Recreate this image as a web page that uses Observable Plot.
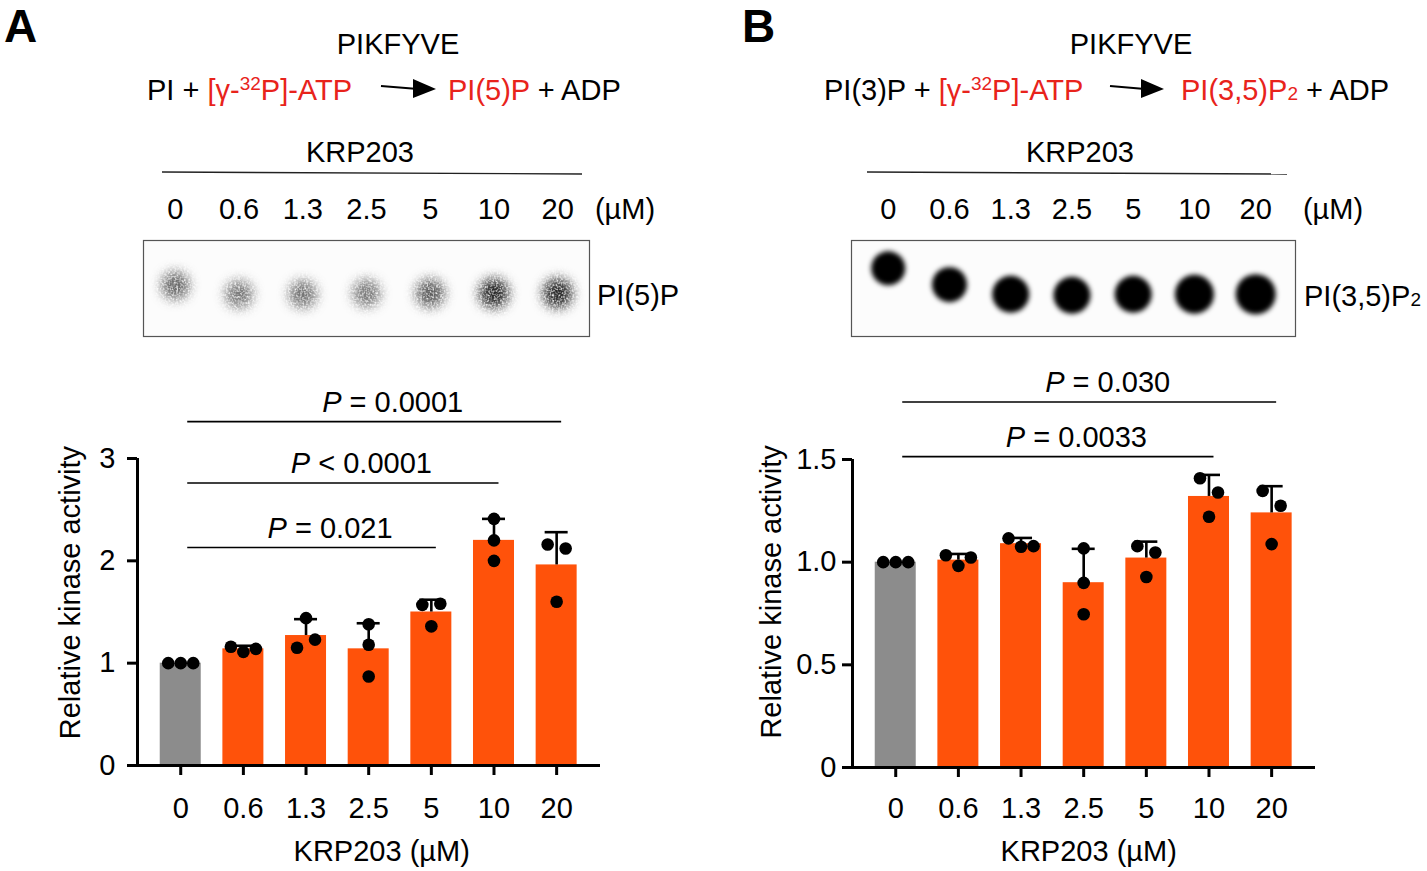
<!DOCTYPE html>
<html><head><meta charset="utf-8">
<script src="https://cdn.jsdelivr.net/npm/d3@7"></script>
<script src="https://cdn.jsdelivr.net/npm/@observablehq/plot@0.6"></script>
<style>
body{margin:0;background:#fff;}
#page{position:relative;width:1427px;height:871px;overflow:hidden;background:#fff;font-family:"Liberation Sans",Arial,Helvetica,sans-serif;}
#page svg{position:absolute;max-width:none;background:transparent;overflow:visible;}
</style></head><body><div id="page"></div>
<script>
// ---------------- data ----------------
const concLabels = ["0", "0.6", "1.3", "2.5", "5", "10", "20"];

// Panel A : PI -> PI(5)P
const meanA = [1.00, 1.14, 1.27, 1.14, 1.50, 2.20, 1.96];
const sdA   = [0.00, 0.03, 0.16, 0.25, 0.12, 0.21, 0.32];
const repsA = [[1.00, 1.00, 1.00], [1.16, 1.11, 1.14], [1.44, 1.15, 1.23], [1.38, 1.18, 0.87],
               [1.57, 1.58, 1.36], [2.41, 2.20, 2.00], [2.16, 2.12, 1.60]];
const pToA    = [6, 5, 4];
const pLevelA = [3.36, 2.76, 2.13];
const pTextA  = ["= 0.0001", "< 0.0001", "= 0.021"];
const blotSignalA = [0.6, 0.52, 0.55, 0.52, 0.64, 0.85, 0.85];
const blotSizeA   = [14, 14, 14, 14, 14.5, 15, 15];
const blotMigA    = [0.47, 0.56, 0.56, 0.55, 0.55, 0.55, 0.55];

// Panel B : PI(3)P -> PI(3,5)P2
const meanB = [1.00, 1.01, 1.09, 0.90, 1.02, 1.32, 1.24];
const sdB   = [0.00, 0.03, 0.028, 0.165, 0.08, 0.105, 0.13];
const repsB = [[1.00, 1.00, 1.00], [1.034, 0.982, 1.023], [1.116, 1.075, 1.078], [1.067, 0.899, 0.746],
               [1.078, 1.047, 0.928], [1.409, 1.339, 1.221], [1.347, 1.275, 1.088]];
const pToB    = [6, 5];
const pLevelB = [1.78, 1.514];
const pTextB  = ["= 0.030", "= 0.0033"];
const blotSignalB = [1, 1, 1, 1, 1, 1, 1];
const blotSizeB   = [17, 17.5, 18.5, 18.5, 18.5, 19.5, 20];
const blotMigB    = [0.29, 0.46, 0.56, 0.57, 0.56, 0.56, 0.56];

// ---------------- styles ----------------
const FONT = '"Liberation Sans", Arial, Helvetica, sans-serif';
const FS = 29;
const RED = "#E8231B";
const ORANGE = "#FF520A";
const GRAY = "#8C8C8C";

const page = d3.select("#page");

// ---------------- header annotations (plain SVG) ----------------
const hdr = page.append("svg").attr("width", 1427).attr("height", 871)
  .style("left", "0px").style("top", "0px")
  .attr("font-family", FONT);

function addText(x, y, parts, anchor = "start", size = FS, weight = "normal") {
  const t = hdr.append("text").attr("x", x).attr("y", y).attr("text-anchor", anchor)
    .attr("font-size", size).attr("font-weight", weight).attr("fill", "#000")
    .style("white-space", "pre");
  parts.forEach(p => {
    const s = typeof p === "string" ? {t: p} : p;
    const ts = t.append("tspan").text(s.t);
    if (s.fill) ts.attr("fill", s.fill);
    if (s.size) ts.attr("font-size", s.size);
    if (s.dy) ts.attr("dy", s.dy);
  });
}
function arrow(x0, x1, tip) {
  hdr.append("line").attr("x1", x0).attr("y1", 86).attr("x2", x1).attr("y2", 89)
    .attr("stroke", "#000").attr("stroke-width", 2.2);
  hdr.append("path").attr("d", `M${tip - 23},79 L${tip},89 L${tip - 23},98 Z`).attr("fill", "#000");
}

addText(4, 42, ["A"], "start", 46, "bold");
addText(742, 42, ["B"], "start", 46, "bold");

addText(398, 54, ["PIKFYVE"], "middle");
addText(147, 100, ["PI + ", {t: "[γ-", fill: RED}, {t: "32", fill: RED, size: 19, dy: -10}, {t: "P]-ATP", fill: RED, dy: 10}]);
arrow(381, 418, 436);
addText(448, 100, [{t: "PI(5)P", fill: RED}, " + ADP"]);

addText(1131, 54, ["PIKFYVE"], "middle");
addText(824, 100, ["PI(3)P + ", {t: "[γ-", fill: RED}, {t: "32", fill: RED, size: 19, dy: -10}, {t: "P]-ATP", fill: RED, dy: 10}]);
arrow(1110, 1145, 1164);
addText(1181, 100, [{t: "PI(3,5)P", fill: RED}, {t: "2", fill: RED, size: 19}, " + ADP"]);

addText(360, 162, ["KRP203"], "middle");
addText(1080, 162, ["KRP203"], "middle");
hdr.append("line").attr("x1", 162).attr("y1", 172).attr("x2", 582).attr("y2", 174).attr("stroke", "#222").attr("stroke-width", 1.4);
hdr.append("line").attr("x1", 867).attr("y1", 172).attr("x2", 1287).attr("y2", 174).attr("stroke", "#222").attr("stroke-width", 1.4);
addText(625, 219, ["(µM)"], "middle");
addText(1333, 219, ["(µM)"], "middle");
addText(597, 305, ["PI(5)P"]);
addText(1304, 306, ["PI(3,5)P", {t: "2", size: 19}]);

// ---------------- blots (Plot) ----------------
function blot(o) {
  const W = o.width, H = 170;
  const spots = o.signal.map((s, i) => ({i, s, r: o.size[i], m: o.mig[i]}));
  const svg = Plot.plot({
    width: W, height: H,
    marginLeft: o.ml, marginRight: o.mr, marginTop: 60, marginBottom: 14,
    x: {domain: o.xDom, axis: null},
    y: {domain: [0, 1], reverse: true, axis: null},
    r: {type: "identity"},
    opacity: {type: "identity"},
    style: {fontFamily: FONT, fontSize: FS + "px", background: "transparent", overflow: "visible"},
    marks: [
      Plot.frame({fill: "#fcfcfc"}),
      Plot.dot(spots, {x: "i", y: "m", r: "r", fill: "#000", fillOpacity: "s"}),
      Plot.frame({stroke: "#555", strokeWidth: 1.2}),
      Plot.text(concLabels, {x: (d, i) => i, frameAnchor: "top", lineAnchor: "middle", dy: -31, fontSize: FS, text: d => d})
    ]
  });
  const s = d3.select(svg);
  const defs = s.insert("defs", ":first-child");
  const f = defs.append("filter").attr("id", o.id).attr("filterUnits", "userSpaceOnUse")
    .attr("x", -20).attr("y", -20).attr("width", W + 40).attr("height", H + 40)
    .attr("color-interpolation-filters", "sRGB");
  f.append("feGaussianBlur").attr("in", "SourceGraphic").attr("stdDeviation", o.sigma).attr("result", "blur");
  if (o.speckle) {
    f.append("feTurbulence").attr("type", "fractalNoise").attr("baseFrequency", 0.5)
      .attr("numOctaves", 2).attr("seed", 3).attr("result", "noise");
    f.append("feColorMatrix").attr("in", "noise").attr("type", "matrix")
      .attr("values", "0 0 0 0 0  0 0 0 0 0  0 0 0 0 0  2.0 0 0 0 -0.2").attr("result", "mask");
    f.append("feComposite").attr("in", "blur").attr("in2", "mask").attr("operator", "in");
  }
  const circ = s.select("circle").node();
  if (circ) d3.select(circ.parentNode).attr("filter", `url(#${o.id})`);
  svg.style.left = o.left + "px";
  svg.style.top = "180px";
  page.node().appendChild(svg);
}
blot({id: "spotA", left: 100, width: 600, ml: 43, mr: 111, xDom: [-0.5, 6.5],
      signal: blotSignalA, size: blotSizeA, mig: blotMigA, sigma: 6, speckle: true});
blot({id: "spotB", left: 800, width: 627, ml: 51, mr: 132, xDom: [-0.6, 6.65],
      signal: blotSignalB, size: blotSizeB, mig: blotMigB, sigma: 2.5, speckle: false});

// ---------------- bar charts (Plot) ----------------
function jitterPx(vals, pxY) {
  const n = vals.length, comp = vals.map((_, i) => i);
  const find = i => comp[i] === i ? i : (comp[i] = find(comp[i]));
  for (let a = 0; a < n; a++) for (let b = a + 1; b < n; b++)
    if (Math.abs(vals[a] - vals[b]) * pxY < 16) comp[find(a)] = find(b);
  const groups = new Map();
  vals.forEach((_, i) => { const r = find(i); if (!groups.has(r)) groups.set(r, []); groups.get(r).push(i); });
  const off = new Array(n).fill(0);
  for (const g of groups.values()) {
    const pattern = g.length === 1 ? [0] : g.length === 2 ? [-9, 9] : [-12.5, 0, 12.5];
    g.forEach((idx, k) => off[idx] = pattern[k]);
  }
  return off;
}

function barPanel(o) {
  const W = 712, H = 511;
  const xDom = [-0.69, 6.7];
  const fw = W - 137 - 112, fh = H - o.mt - o.mb;
  const pxX = fw / (xDom[1] - xDom[0]);
  const pxY = fh / o.yMax;
  const bars = o.means.map((m, i) => ({i, mean: m, top: m + o.sds[i], fill: i === 0 ? GRAY : ORANGE}));
  const errs = bars.filter(d => d.top > d.mean);
  const pts = [];
  o.reps.forEach((vals, i) => {
    const off = jitterPx(vals, pxY);
    vals.forEach((v, k) => pts.push({x: i + off[k] / pxX, y: v}));
  });
  const br = o.pTo.map((t, k) => ({x1: 7 / pxX, x2: t + 5 / pxX, y: o.pLevel[k], label: "P " + o.pText[k]}));
  const barHalf = 20.5 / pxX, capHalf = 11.5 / pxX;
  const svg = Plot.plot({
    width: W, height: H,
    marginLeft: 137, marginRight: 112, marginTop: o.mt, marginBottom: o.mb,
    x: {domain: xDom},
    y: {domain: [0, o.yMax]},
    style: {fontFamily: FONT, fontSize: FS + "px", background: "transparent", overflow: "visible", color: "#000"},
    marks: [
      Plot.rect(bars, {x1: d => d.i - barHalf, x2: d => d.i + barHalf, y1: 0, y2: "mean", fill: "fill"}),
      Plot.ruleX(errs, {x: "i", y1: "mean", y2: "top", strokeWidth: 2.6, stroke: "#000"}),
      Plot.ruleY(errs, {y: "top", x1: d => d.i - capHalf, x2: d => d.i + capHalf, strokeWidth: 2.6, stroke: "#000"}),
      Plot.dot(pts, {x: "x", y: "y", r: 6.3, fill: "#000"}),
      Plot.ruleX([xDom[0]], {y1: 0, y2: o.yMax, strokeWidth: 3, stroke: "#000"}),
      Plot.ruleY([0], {x1: xDom[0], x2: xDom[1], strokeWidth: 3, stroke: "#000"}),
      Plot.axisY({ticks: o.yTicks, tickFormat: o.yFmt, tickSize: 10, tickPadding: o.yPad,
                  strokeWidth: 3, fontSize: FS, label: null}),
      Plot.axisX({ticks: d3.range(concLabels.length), tickFormat: i => concLabels[i], tickSize: 10,
                  tickPadding: o.xPad, strokeWidth: 3, fontSize: FS, label: null}),
      Plot.ruleY(br, {y: "y", x1: "x1", x2: "x2", strokeWidth: 1.6, stroke: "#000"}),
      Plot.text(br, {x: d => (d.x1 + d.x2) / 2, y: "y", text: "label", dx: 18, dy: -19, fontSize: FS}),
      Plot.text(["Relative kinase activity"], {x: xDom[0], y: o.yLabelAt, rotate: -90, dx: o.yLabelDx, fontSize: FS, text: d => d}),
      Plot.text(["KRP203 (µM)"], {x: 3, y: 0, dx: o.xLabelDx, dy: o.xLabelDy, fontSize: FS, text: d => d})
    ]
  });
  const pLabels = new Set(br.map(d => d.label));
  d3.select(svg).selectAll("text").each(function () {
    const s = this.textContent;
    if (!pLabels.has(s)) return;
    this.textContent = "";
    d3.select(this).append("tspan").attr("font-style", "italic").text(s.slice(0, 1));
    d3.select(this).append("tspan").text(s.slice(1));
  });
  svg.style.left = o.left + "px";
  svg.style.top = "360px";
  page.node().appendChild(svg);
}

barPanel({left: 0, mt: 98, mb: 106, yMax: 3, yTicks: [0, 1, 2, 3], yFmt: d => String(d), yPad: 12, xPad: 22,
          means: meanA, sds: sdA, reps: repsA, pTo: pToA, pLevel: pLevelA, pText: pTextA,
          yLabelAt: 1.69, yLabelDx: -67, xLabelDx: 13, xLabelDy: 86});
barPanel({left: 715, mt: 99, mb: 104, yMax: 1.5, yTicks: [0, 0.5, 1, 1.5], yFmt: d => d === 0 ? "0" : d.toFixed(1),
          yPad: 6, xPad: 20,
          means: meanB, sds: sdB, reps: repsB, pTo: pToB, pLevel: pLevelB, pText: pTextB,
          yLabelAt: 0.855, yLabelDx: -81, xLabelDx: 5, xLabelDy: 84});
</script></body></html>
